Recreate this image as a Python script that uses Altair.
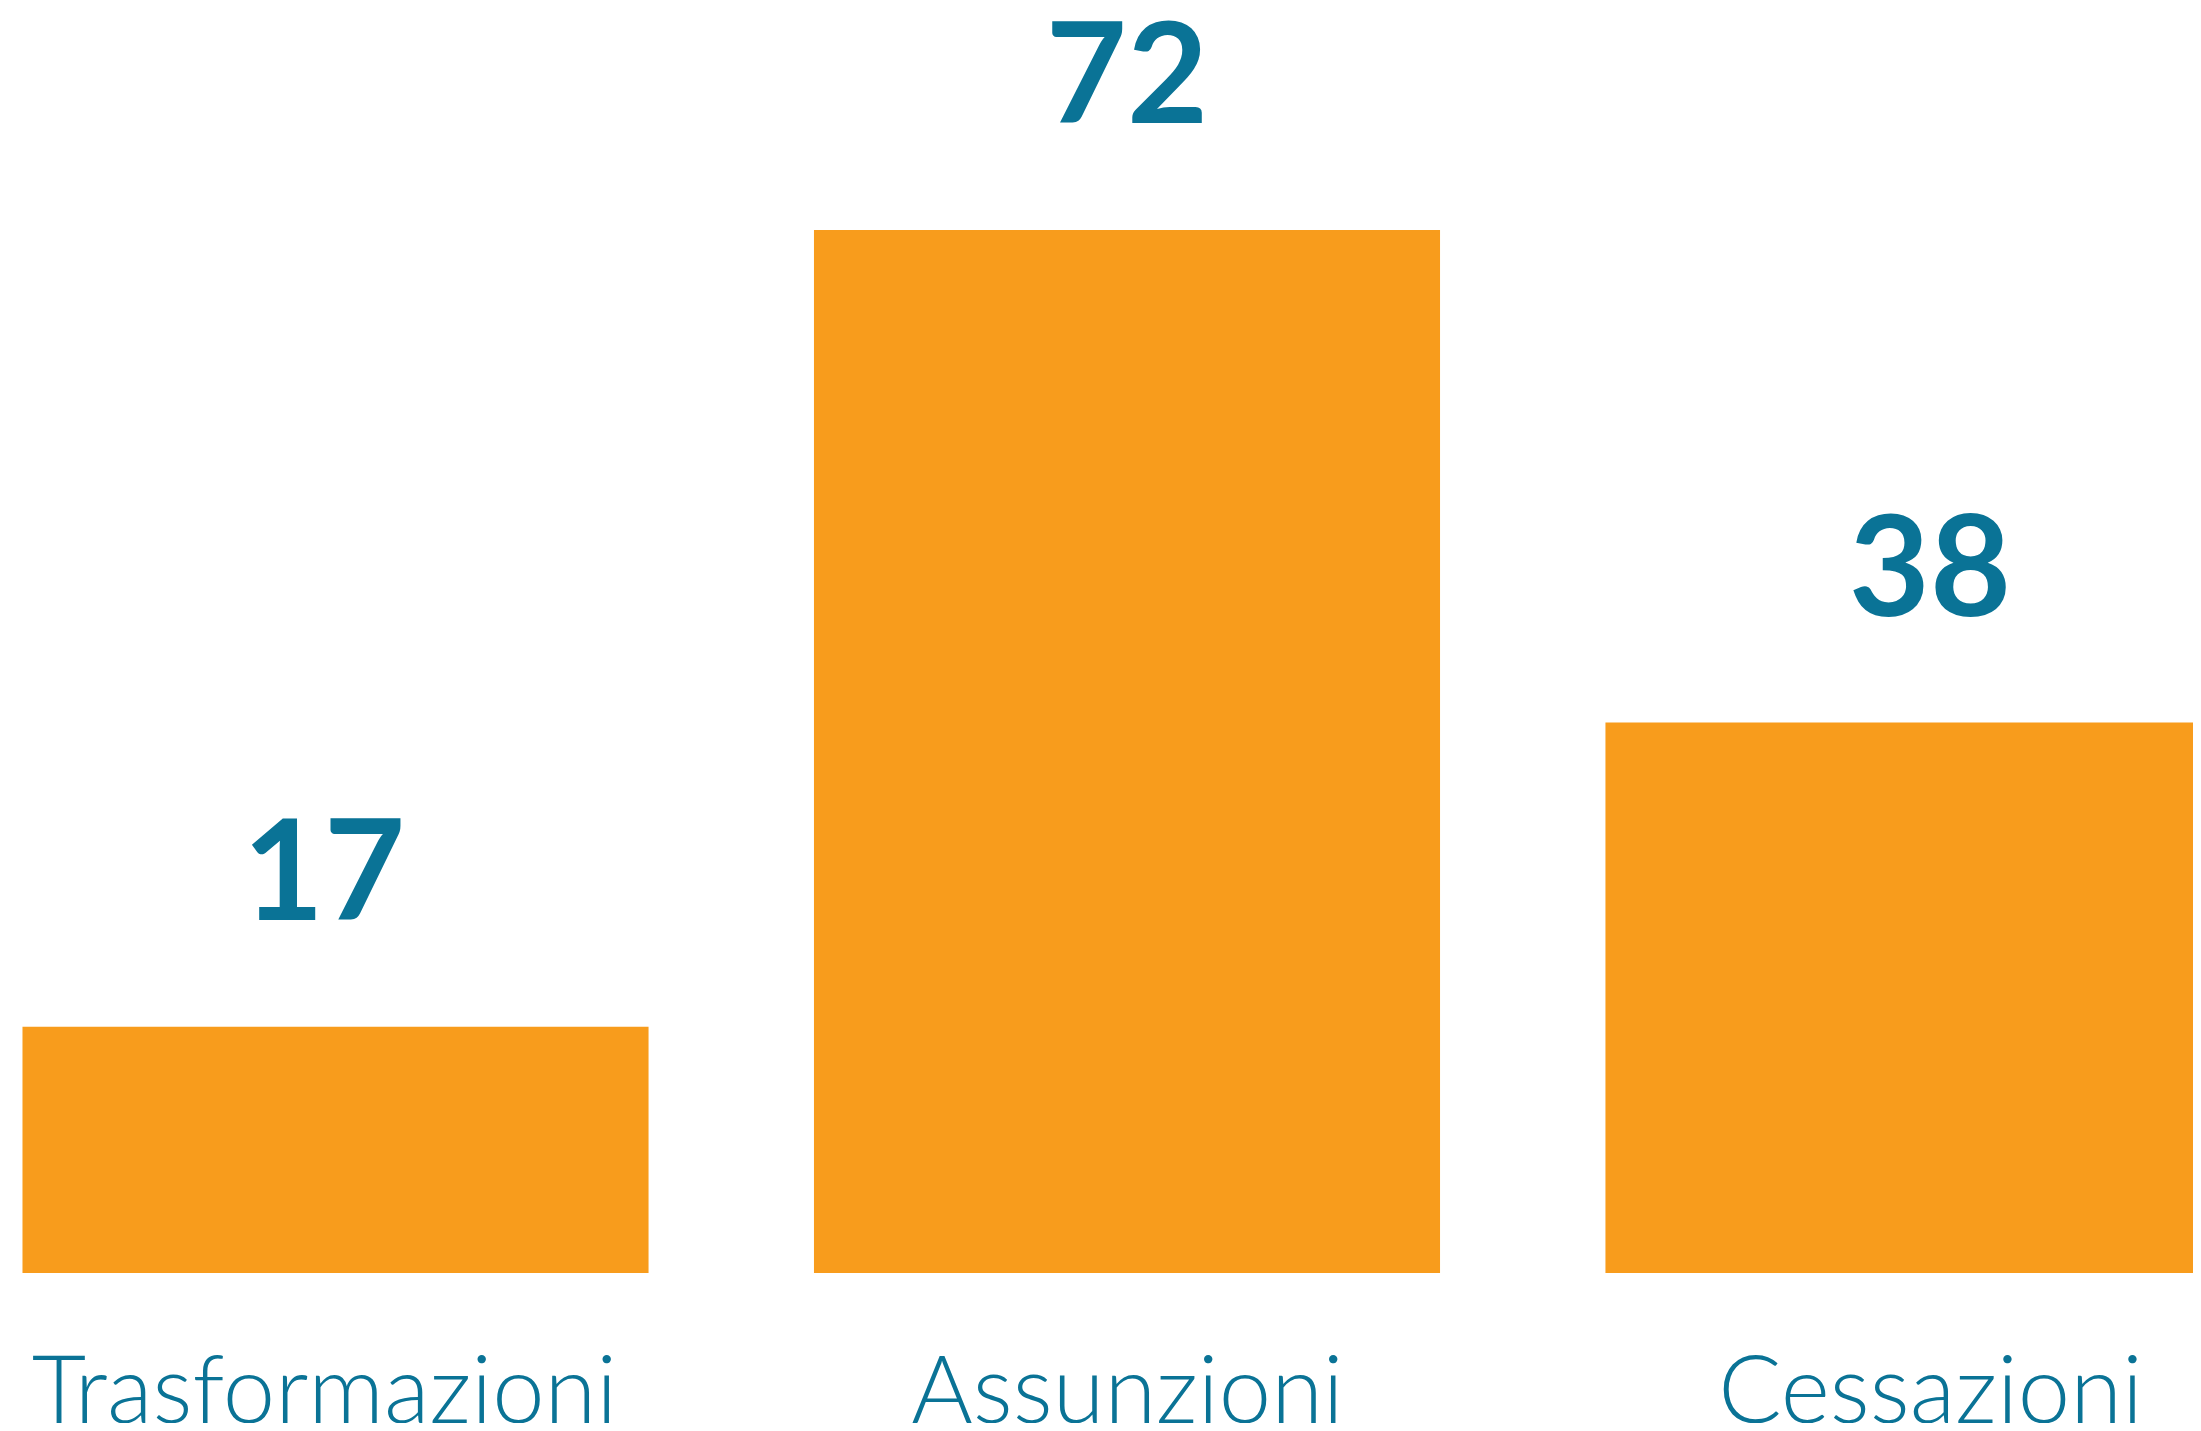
import altair as alt
import pandas as pd

categories = ["Trasformazioni", "Assunzioni", "Cessazioni"]
values = [17, 72, 38]

df = pd.DataFrame({"categoria": categories, "valore": values})

TEAL = "#0A7396"
ORANGE = "#F89C1C"

y_scale = alt.Scale(domain=[0, 87.33], nice=False, zero=True)

bars = alt.Chart(df).mark_bar(color=ORANGE).encode(
    x=alt.X("categoria:N", sort=categories, axis=None,
            scale=alt.Scale(range=[0, 2238], paddingInner=0.209, paddingOuter=0.0183)),
    y=alt.Y("valore:Q", scale=y_scale, axis=None),
)

labels = alt.Chart(df).mark_text(
    color=TEAL, font="Lato", fontWeight="bold", fontSize=140,
    baseline="alphabetic", align="center", dy=-107,
).encode(
    x=alt.X("categoria:N", sort=categories, title=None,
            scale=alt.Scale(type="point", range=[316, 1922], padding=0),
            axis=alt.Axis(domain=False, ticks=False, tickSize=0, grid=False,
                          labelFont="Lato", labelFontWeight=300, labelFontSize=94,
                          labelColor=TEAL, labelBaseline="alphabetic",
                          labelPadding=149, labelAngle=0, labelAlign="center",
                          labelOverlap=False, labelLimit=0)),
    y=alt.Y("valore:Q", scale=y_scale, axis=None),
    text=alt.Text("valore:Q"),
)

chart = alt.layer(bars, labels).resolve_scale(x="independent").properties(
    width=2185, height=1265,
    background="white",
    autosize=alt.AutoSizeParams(type="none"),
    padding={"left": 0, "top": 0, "right": 0, "bottom": 150},
).configure_view(stroke=None, strokeWidth=0)

chart.save("out.html", embed_options={"renderer": "svg", "actions": False})
